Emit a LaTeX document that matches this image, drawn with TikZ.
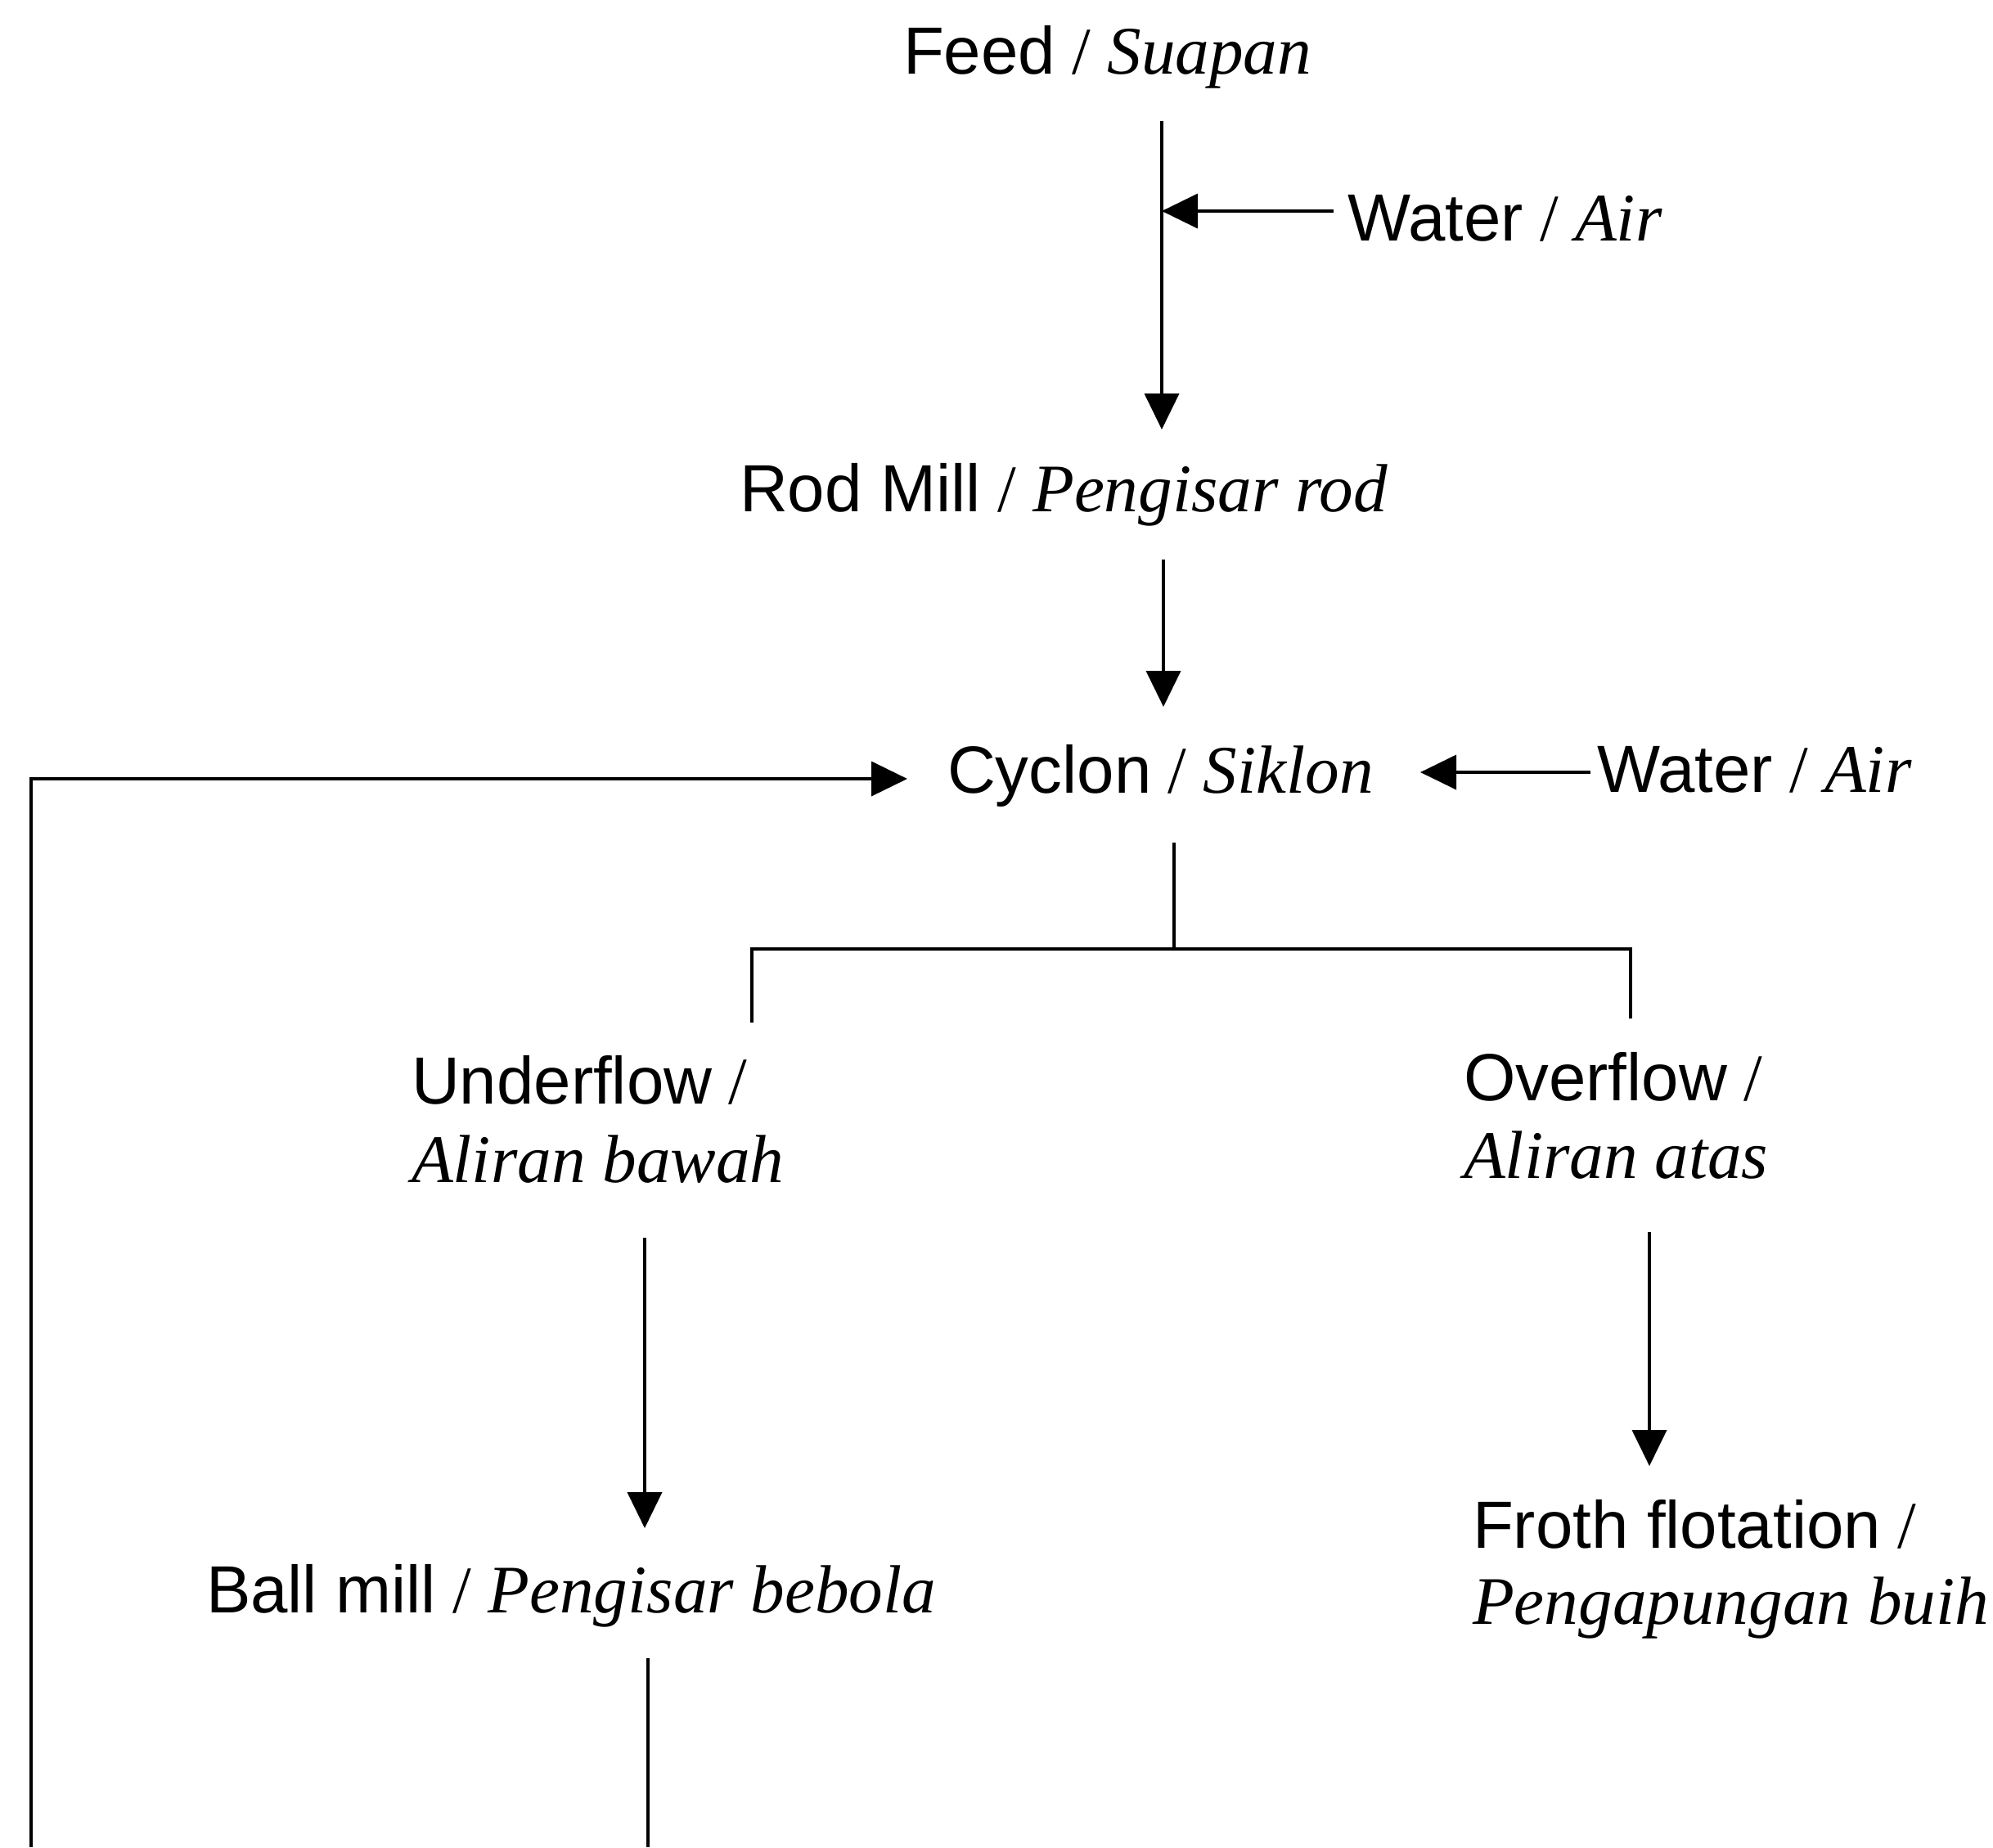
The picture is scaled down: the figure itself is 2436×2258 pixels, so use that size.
\documentclass[tikz,border=0pt]{standalone}
\usepackage{fontspec}
\setmainfont{Liberation Sans}
\newfontfamily\tms{Liberation Serif}
\usetikzlibrary{arrows.meta}
\newcommand\ital[1]{{\tms\fontsize{20.8}{24}\selectfont\itshape #1}}
\newcommand\slashit[1]{{\tms\ /\ }\ital{#1}}
\begin{document}
\begin{tikzpicture}[x=0.25pt,y=-0.25pt,
  lbl/.style={anchor=base west,inner sep=0pt,outer sep=0pt,font=\fontsize{20.4}{24}\selectfont},
  conn/.style={line width=0.95pt},
  flow/.style={conn,-{Triangle[length=11pt,width=10.5pt]}}]
\useasboundingbox (0,0) rectangle (2436,2258);
% labels
\node[lbl] (feed) at (1104,91) {Feed\slashit{Suapan}};
\node[lbl] (w1) at (1647,294) {Water\slashit{Air}};
\node[lbl] (rod) at (904,625) {Rod Mill\slashit{Pengisar rod}};
\node[lbl] (cyc) at (1158,969) {Cyclon\slashit{Siklon}};
\node[lbl] (w2) at (1952,968) {Water\slashit{Air}};
\node[lbl] (uf) at (503,1349) {Underflow{\tms\ /}};
\node[lbl] (uf2) at (503,1445) {\ital{Aliran bawah}};
\node[lbl] (of) at (1789,1345) {Overflow{\tms\ /}};
\node[lbl] (of2) at (1789,1440) {\ital{Aliran atas}};
\node[lbl] (bm) at (252,1971) {Ball mill\slashit{Pengisar bebola}};
\node[lbl] (ff) at (1800,1892) {Froth flotation{\tms\ /}};
\node[lbl] (ff2) at (1800,1985) {\ital{Pengapungan buih}};
% connector end points
\coordinate (fa) at (1420,148);
\coordinate (fb) at (1420,525);
\coordinate (wa) at (1630,258);
\coordinate (wb) at (1420,258);
\coordinate (ra) at (1422,684);
\coordinate (rb) at (1422,864);
\coordinate (w2a) at (1944,944);
\coordinate (w2b) at (1736,944);
\coordinate (rc0) at (38,2258);
\coordinate (rc1) at (38,952);
\coordinate (rc2) at (1109,952);
\coordinate (sa) at (1435,1030);
\coordinate (sb) at (1435,1160);
\coordinate (ul) at (919,1250);
\coordinate (or) at (1993,1245);
\coordinate (ua) at (788,1513);
\coordinate (ub) at (788,1868);
\coordinate (oa) at (2016,1506);
\coordinate (ob) at (2016,1792);
\coordinate (ba) at (792,2027);
\coordinate (bb) at (792,2258);
% connectors
\draw[flow] (fa) -- (fb);
\draw[flow] (wa) -- (wb);
\draw[flow] (ra) -- (rb);
\draw[flow] (w2a) -- (w2b);
\draw[flow] (rc0) -- (rc1) -- (rc2);
\draw[conn] (sa) -- (sb);
\draw[conn] (ul) |- (sb) -| (or);
\draw[flow] (ua) -- (ub);
\draw[flow] (oa) -- (ob);
\draw[conn] (ba) -- (bb);
\end{tikzpicture}
\end{document}
